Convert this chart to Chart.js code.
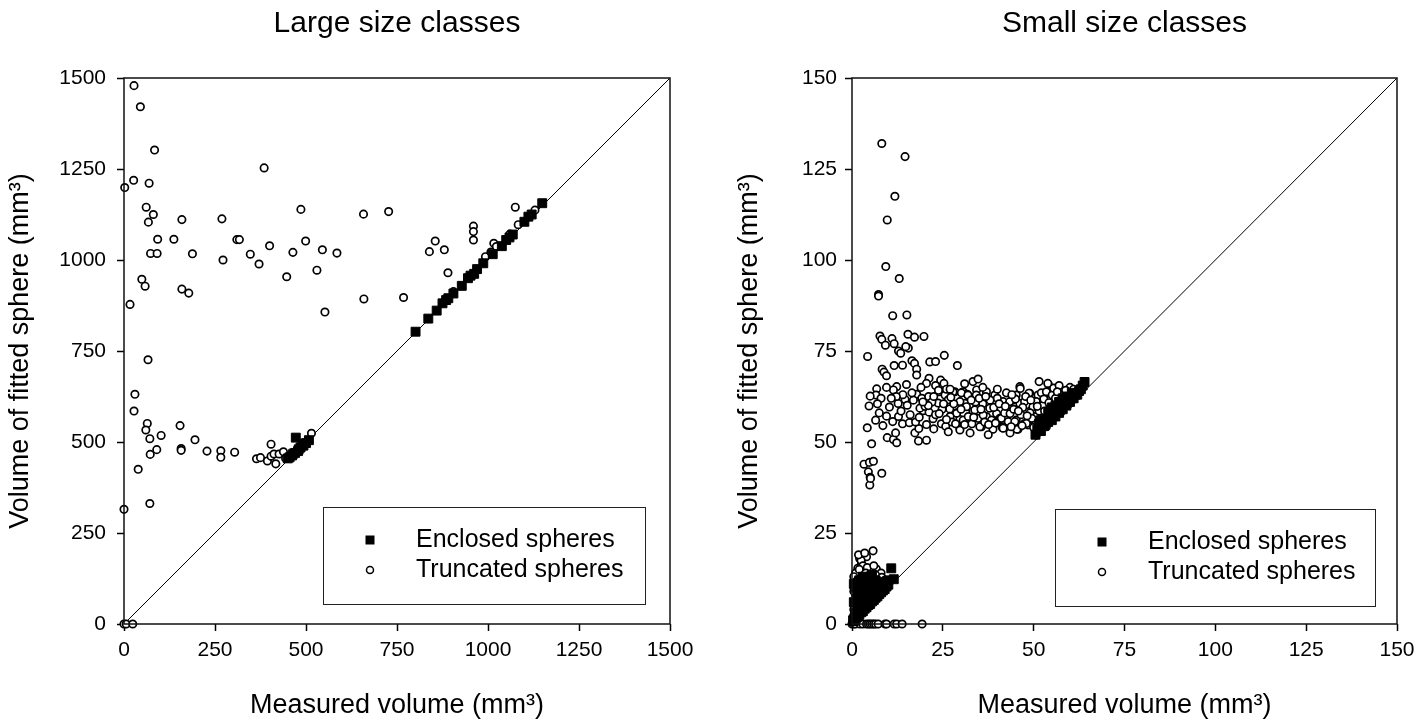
<!DOCTYPE html>
<html>
<head>
<meta charset="utf-8">
<script src="https://cdn.jsdelivr.net/npm/chart.js@4.4.0/dist/chart.umd.min.js"></script>
<style>
  body { margin: 0; background: #fff; }
  .panel { position: absolute; top: 0; width: 714px; height: 722px; }
</style>
</head>
<body>
<div class="panel" style="left:0"><canvas id="chartLarge"></canvas></div>
<div class="panel" style="left:714px"><canvas id="chartSmall"></canvas></div>
<script>
// Large size classes - [measured, fitted] in mm3
const largeEnclosed = [
  [801,803],[836,839],[859,861],[875,881],[891,895],[928,929],[952,957],[962,962],[987,991],
  [1013,1016],[1038,1038],[1059,1062],[1111,1119],[1149,1156],[1100,1105],[1120,1125],[1068,1070],
  [1050,1055],[945,950],[970,975],[905,908],[885,890],
  [472,512],[455,458],[462,463],[470,470],[478,475],[485,485],[493,490],[500,497],[508,505],
  [480,480],[465,468],[490,495],[450,455]
];
const largeTruncated = [
  [27.5,1479],[45,1421],[84,1302],[385,1253],[26.5,1219],[2,1199],[69,1211],[61,1145],[80.6,1125],
  [67,1104],[159,1111],[269,1113],[486,1139],[658,1126],[727,1133],[92.5,1057],[137,1057],[310,1056],
  [317,1056],[499,1052],[400,1039],[545,1028],[464,1021],[73,1018],[91,1018],[188,1017],[347,1016],
  [585,1019],[272,1000],[371,989],[530,972],[447,954],[49,947],[58,928],[159,920],[178,909],[659,893],
  [768,897],[552,857],[16.5,878],[66,726],
  [30,631],[27.5,585],[64,551],[60,533],[71,509],[102,518],[154,545],[195,506],[90,479],[72,466],
  [157,482],[157,477],[228,475],[266,476],[266,458],[304,472],[39,425],[71,331],[0,315],[0,0],[6,0],[24,0],
  [364,454],[375,457],[394,448],[404,494],[404,461],[412,467],[417,440],[426,467],[438,473],[444,455],
  [463,469],[515,524],
  [839,1023],[855,1052],[880,1028],[890,965],[905,913],[960,1093],[960,1078],[960,1055],[993,1009],
  [1008,1022],[1016,1046],[1023,1037],[1060,1071],[1083,1097],[1075,1145],[1129,1137]
];

// Small size classes - [measured, fitted] in mm3
const smallEnclosed = [
  [50.5,52],[51,53.5],[52,53],[52.5,55],[53,54.5],[53.5,56],[54,55.5],[54.5,57],[55,56],[55.5,58],
  [56,57],[56.5,58.5],[57,58],[57.5,59.5],[58,59],[58.5,60.5],[59,60],[59.5,61.5],[60,61],[60.5,62],
  [61,62],[61.5,63],[62,63],[62.5,64],[63,64.5],[64,66.5],[63.5,65.5],[54,58],[56,60],[58,62],[52,56],
  [55,59.5],[51.5,55],[57,61],[59,62.5],[60.5,63.5],
  [0.5,0.8],[1,1.5],[1.5,2],[2,2.5],[2.5,3.2],[3,3.5],[3.5,4.2],[4,4.6],[4.5,5.2],[5,5.5],[5.5,6.2],
  [6,6.6],[6.5,7.2],[7,7.6],[7.5,8.2],[8,8.7],[8.5,9.2],[9,9.6],[9.5,10.3],[10,10.8],[10.8,15.3],
  [11.5,12.3],[1,3],[2,4.5],[3,5.5],[4,7],[5,8],[6,9],[7,10],[8,11],[2.5,6],[3.5,8],[4.5,9.5],
  [5.5,10.5],[6.5,12],[1.5,5],[0.8,2.5],[9,11.5],[10,12],[7.5,11],[0.5,6],[1.5,8],[2.5,9],[3.5,10.5],
  [4.5,12],[1,10],[2,12],[3,13],[0.5,11],[5.5,13.5],[0.3,1]
];
const smallTruncated = [
  [8.2,132],[14.6,128.4],[11.8,117.5],[9.7,111],[9.3,98.2],[13,94.9],[7.3,90.5],[7.3,90.1],[11.2,84.7],
  [15.1,84.9],[7.7,79.1],[8.2,78.2],[9.2,76.6],[11,78.4],[11.6,77],[15.4,79.6],[17.2,78.8],[19.8,79],
  [12.8,75],[13.4,74.4],[15.5,75.8],[14.8,76.2],[4.3,73.5],[25.4,73.8],[21.4,72],[23,72.1],[29,71],
  [11.6,71],[13.9,71.1],[16.5,72.3],[17.2,71.6],[8.3,70],[8.8,69.2],[9.5,68.2],[17.8,70],[17.8,68.4],
  [21.2,67.5],[20.5,66.1],[24.4,67],[25.3,66.1],[33.3,66.6],[34.7,67.3],[15,65.8],[12.3,65.2],[11.4,64.3],
  [9.5,65],[6.8,64.6],[6.6,62.9],[5,62.6],[4.7,59.9],[17.8,63.1],[19.2,62],[21.1,62.5],[16.9,61.5],
  [24,63.8],[25.6,62.9],[28.3,63.8],[30.6,63.8],[31.7,63.1],[34.3,64.3],[37,63.8],[39.3,62.9],[41.6,61.1],
  [43,60.2],[10.3,59.6],[12.7,60.6],[14.6,61.7],[15.2,60.1],[9.5,57.1],[11.2,55.6],[12.8,57],[13.9,55],
  [15.8,55.3],[4.2,53.9],[5.4,49.5],[9.7,51.2],[11.4,50.7],[12.3,49.8],[12,52.5],[17.3,52.5],[18.4,53.7],
  [18.3,50.3],[20.5,50.5],[19.6,58.6],[21.2,58.2],[22.3,56.4],[24.6,55],[25.8,54.3],[18.7,59.3],[20.1,59.8],
  [23.7,60.7],[26.5,61.6],[26.9,59.1],[28.8,58],[29.7,56.2],[29.7,53.7],[31.1,60.6],[32.4,59.7],[33.3,58.4],
  [34.7,56.5],[35.6,54.2],[37,57],[37.9,59.3],[38.8,54.2],[40.2,56],[41.6,54.2],[42.5,56.5],[39.8,57.8],
  [3.3,43.9],[4.8,44.4],[5.9,44.7],[4.5,41.8],[8.2,41.4],[5,40.3],[4.9,38.2],[5.1,40],
  [46.2,65.2],[51.5,66.6],[54,65.9],[48.9,63.4],[51.2,62.9],[54.4,63.4],[27.8,63.8],[30.1,63.5],[31.9,62.9],
  [34.2,62.9],[44.3,61.5],[46.2,60.6],[48,60.2],[49.8,59.7],[29.7,61.1],[31.5,59.7],[28.8,57.9],[30.6,56],
  [33.8,58.8],[36.1,57.4],[38.4,56],[40.7,56.5],[43,55.6],[45.2,56],[47.5,55.1],[50.7,55.6],[52.1,56.5],
  [29.7,53.3],[35.2,54.2],[38.8,53.5],[41.4,53.9],[45.7,53.5],[48.4,54.7],[50.7,51.9],[53.5,54.2],
  [53.9,66.1],[46.3,64.7],[48.7,63.4],[45.2,62.9],[52.1,63.5],[53.5,63.8],[55.1,62.9],[60.4,63.4],[62.2,63.8],
  [43.4,61.1],[47.5,61.1],[50.7,61.1],[41.1,56.5],[44.8,55.6],[48,55.1],[50.3,57],[41.6,53.8],[45.4,53.5],
  [57.6,58.3],[59.4,60.1],[63,64.7],
  [22,61],[23,57.5],[24.8,59],[27,57],[27.5,55.5],[32,57],[33,55],[34,61],[36,60.5],[36.5,55.5],[38,61.5],
  [39,59.5],[40,62],[42,58],[43.5,57.8],[44.5,59],[45,61.8],[46.5,57.5],[47,59.5],[49,58],[49.5,56.5],
  [51.5,58.5],[52.5,60],[55,60.5],[56,62],[53,58.5],[26,64.5],[23,65.5],[19,65],[14,63],[8,62],[7.5,58],
  [6.5,56],[8.5,54.5],[16,57.5],[17.5,55.5],[20.5,54.8],[22.5,53.6],[26.5,52.8],[32.5,52.5],[37.5,52],
  [43.5,52.5],[28,60.5],[35,62],[42.5,63.5],[47.8,62.5],[55.5,64.8],[58,63],[57,65.5],[60,65],
  [21,60],[22.5,62.5],[24,57.8],[25.2,60.5],[26,56.2],[27.2,62.3],[28.5,55],[30,59],[31,54.8],[32.8,61.5],
  [33.5,56.8],[35.5,59],[36.8,62.5],[37.6,54.8],[39.5,55.2],[40.5,60.5],[42.2,59.8],[43.8,54.2],[44,63],
  [45.8,58.5],[46.8,54.5],[48.2,57.2],[49.2,61.5],[50,54],[51,59.8],[52.8,61.8],[54.2,60.8],[56.5,63.8],
  [58.8,64.2],[61,64.5],[12.2,62.5],[13.5,58.5],[10.8,62],[7,60.5],[16.5,63.5],[18.5,56.8],[19.5,61],
  [23.8,64.2],[27,64.5],[31,66],[36,65],[40,64.5],
  [5.8,20.1],[3.5,18.9],[2.1,18],[2.6,16.7],[1.6,15.3],[6.7,15.1],[7.6,12.5],[5.3,13],[4,18.5],[2.5,17.5],
  [3,16],[4.2,15.5],[6,16],[8,14],[1,14],[2,15],[0.5,13],[1.8,19],[3.5,19.5],[0.3,2],[0.5,4],[0.8,6],
  [1,8],[1.2,10],[1.5,12],[0.5,9],[1,11.5],[2,7],[2.2,9],[2.5,11],[2.8,13],[3,8.5],[3.2,10.5],[3.5,12],
  [3.8,14],[4,6],[4.2,9],[4.5,11],[4.8,13.5],[5,7.5],[5.2,10],[5.5,12.5],[6,8],[6.2,11],[6.5,13.5],[7,9.5],
  [7.2,12],[7.8,10.5],[8.2,12.8],[8.5,10],[9,12],[3,4],[2,3],[1.5,1.8],[0.2,0.5],
  [0,0],[0.5,0],[1,0],[2.2,0],[3,0],[4,0],[4.5,0],[5,0],[5.5,0],[6,0],[6.5,0],[7.2,0],[9.1,0],[9.5,0],
  [11.6,0],[12.3,0],[13.8,0],[19.3,0]
];

const largeTicks = [0, 250, 500, 750, 1000, 1250, 1500];
const smallTicks = [0, 25, 50, 75, 100, 125, 150];

const FONT = "'Liberation Sans', Arial, sans-serif";

// box round the plot area (top and right sides too)
const framePlugin = {
  id: 'frame',
  afterDatasetsDraw(chart) {
    const a = chart.chartArea, ctx = chart.ctx;
    ctx.save();
    ctx.strokeStyle = '#111';
    ctx.lineWidth = 1.5;
    ctx.strokeRect(a.left, a.top, a.right - a.left, a.bottom - a.top);
    ctx.restore();
  }
};

// legend inside a box, like the original figure
const boxLegendPlugin = {
  id: 'boxLegend',
  afterDraw(chart, args, opts) {
    const ctx = chart.ctx;
    ctx.save();
    ctx.fillStyle = '#fff';
    ctx.fillRect(opts.left, opts.top, opts.right - opts.left, opts.bottom - opts.top);
    ctx.strokeStyle = '#222';
    ctx.lineWidth = 1;
    ctx.strokeRect(opts.left + 0.5, opts.top + 0.5, opts.right - opts.left, opts.bottom - opts.top);
    ctx.font = '25px ' + FONT;
    ctx.textBaseline = 'middle';
    ctx.fillStyle = '#000';
    const mx = opts.left + 47, tx = opts.left + 93;
    const y1 = opts.top + 33, y2 = opts.top + 63;
    ctx.fillRect(mx - 4.5, y1 - 4.5, 9, 9);
    ctx.beginPath();
    ctx.arc(mx, y2, 3.5, 0, Math.PI * 2);
    ctx.lineWidth = 1.5;
    ctx.strokeStyle = '#000';
    ctx.stroke();
    ctx.fillText(chart.data.datasets[0].label, tx, y1);
    ctx.fillText(chart.data.datasets[1].label, tx, y2);
    ctx.restore();
  }
};

function makeChart(id, cfg) {
  const toPts = arr => arr.map(p => ({ x: p[0], y: p[1] }));
  const max = cfg.ticks[cfg.ticks.length - 1];
  return new Chart(document.getElementById(id), {
    type: 'scatter',
    data: {
      datasets: [
        {
          label: 'Enclosed spheres',
          data: toPts(cfg.enclosed),
          pointStyle: 'rect',
          pointRadius: 6.3,
          pointHoverRadius: 6.3,
          backgroundColor: '#000',
          borderColor: '#000',
          borderWidth: 1,
          clip: false
        },
        {
          label: 'Truncated spheres',
          data: toPts(cfg.truncated),
          pointStyle: 'circle',
          pointRadius: 3.7,
          pointHoverRadius: 3.7,
          backgroundColor: '#fff',
          borderColor: '#000',
          borderWidth: 1.7,
          clip: false
        },
        {
          type: 'line',
          label: '1:1',
          data: [{ x: 0, y: 0 }, { x: max, y: max }],
          borderColor: '#000',
          borderWidth: 1,
          pointRadius: 0
        }
      ]
    },
    options: {
      responsive: true,
      maintainAspectRatio: false,
      animation: false,
      events: [],
      layout: { padding: { left: 0, right: cfg.padRight, top: 0, bottom: 0 } },
      plugins: {
        legend: { display: false },
        tooltip: { enabled: false },
        title: {
          display: true,
          fullSize: false,
          text: cfg.title,
          color: '#000',
          font: { family: FONT, size: 30, weight: 'normal' },
          padding: { top: 6, bottom: 36 }
        },
        boxLegend: cfg.legend
      },
      scales: {
        x: {
          type: 'linear',
          min: 0,
          max: max,
          afterBuildTicks: s => { s.ticks = cfg.ticks.map(v => ({ value: v })); },
          afterFit: s => { s.height = 98; },
          grid: { drawOnChartArea: false, drawTicks: true, tickLength: 7, tickColor: '#000', tickWidth: 1.5 },
          border: { display: false },
          ticks: {
            color: '#000', padding: 7, maxRotation: 0,
            font: { family: FONT, size: 21 },
            callback: v => String(v)
          },
          title: {
            display: true,
            text: 'Measured volume (mm³)',
            color: '#000',
            font: { family: FONT, size: 27 },
            padding: { top: 0, bottom: 0 }
          }
        },
        y: {
          type: 'linear',
          min: 0,
          max: max,
          afterBuildTicks: s => { s.ticks = cfg.ticks.map(v => ({ value: v })); },
          afterFit: s => { s.width = cfg.yWidth; },
          grid: { drawOnChartArea: false, drawTicks: true, tickLength: 7, tickColor: '#000', tickWidth: 1.5 },
          border: { display: false },
          ticks: {
            color: '#000', padding: cfg.tickPad,
            font: { family: FONT, size: 21 },
            callback: v => String(v)
          },
          title: {
            display: true,
            text: 'Volume of fitted sphere (mm³)',
            color: '#000',
            font: { family: FONT, size: 27 },
            padding: { top: cfg.yTitlePad, bottom: 0 }
          }
        }
      }
    },
    plugins: [framePlugin, boxLegendPlugin]
  });
}

makeChart('chartLarge', {
  title: 'Large size classes',
  enclosed: largeEnclosed,
  truncated: largeTruncated,
  ticks: largeTicks,
  yWidth: 124,
  padRight: 44,
  tickPad: 11,
  yTitlePad: 4,
  legend: { left: 323, top: 507, right: 645, bottom: 604 }
});

makeChart('chartSmall', {
  title: 'Small size classes',
  enclosed: smallEnclosed,
  truncated: smallTruncated,
  ticks: smallTicks,
  yWidth: 138,
  padRight: 31,
  tickPad: 8,
  yTitlePad: 19,
  legend: { left: 341, top: 509, right: 661, bottom: 606 }
});
</script>
</body>
</html>
